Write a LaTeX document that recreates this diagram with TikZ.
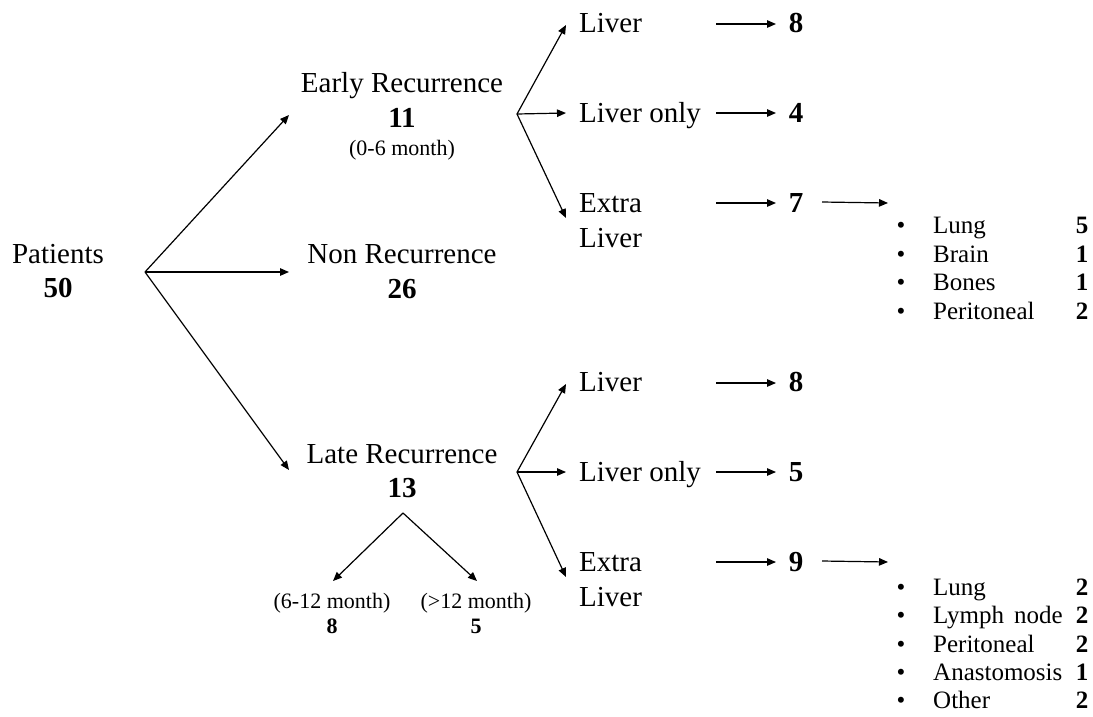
\documentclass[tikz,border=0pt]{standalone}
\usepackage{fontspec}
\setmainfont{Liberation Serif}
\usetikzlibrary{arrows.meta}
\begin{document}
\begin{tikzpicture}[x=1pt,y=-1pt,
  lbl/.style={font=\fontsize{29}{33}\selectfont, inner sep=0pt, anchor=base},
  lblw/.style={lbl, anchor=base west},
  num/.style={font=\fontsize{29}{33}\selectfont\bfseries, inner sep=0pt, anchor=base},
  mon/.style={font=\fontsize{22}{26}\selectfont, inner sep=0pt, anchor=base},
  monnum/.style={font=\fontsize{22}{26}\selectfont\bfseries, inner sep=0pt, anchor=base},
  item/.style={font=\fontsize{25}{28}\selectfont, inner sep=0pt, anchor=base west},
  itemnum/.style={font=\fontsize{25}{28}\selectfont\bfseries, inner sep=0pt, anchor=base},
  bul/.style={font=\fontsize{25}{28}\selectfont, inner sep=0pt, anchor=base},
  arr/.style={line width=1.2pt, -{Triangle[length=9pt,width=7.5pt]}}
]
\useasboundingbox (0,0) rectangle (1093,716);

% root
\node[lbl] (pat) at (58,263) {Patients};
\node[num] (n50) at (58,297) {50};
\coordinate (root) at (145,272);

% middle column
\node[lbl] (early) at (402,92) {Early Recurrence};
\node[num] (n11) at (402,127) {11};
\node[mon] (m06) at (402,155) {(0-6 month)};
\node[lbl] (non) at (402,263) {Non Recurrence};
\node[num] (n26) at (402,298) {26};
\node[lbl] (late) at (402,463) {Late Recurrence};
\node[num] (n13) at (402,497) {13};

\coordinate (tE) at (289,115);
\coordinate (tN) at (289,272);
\coordinate (tL) at (289,470);
\draw[arr] (root) -- (tE);
\draw[arr] (root) -- (tN);
\draw[arr] (root) -- (tL);

% late sub split
\coordinate (lsub) at (403,513);
\coordinate (tA) at (333,581);
\coordinate (tB) at (477,581);
\draw[arr] (lsub) -- (tA);
\draw[arr] (lsub) -- (tB);
\node[mon] (m612) at (332,608) {(6-12 month)};
\node[monnum] (n8b) at (332,633) {8};
\node[mon] (m12) at (476,608) {(>12 month)};
\node[monnum] (n5b) at (476,633) {5};

% early branch
\coordinate (eroot) at (517,114);
\coordinate (eT1) at (566,25);
\coordinate (eT2) at (566,113);
\coordinate (eT3) at (566,218);
\draw[arr] (eroot) -- (eT1);
\draw[arr] (eroot) -- (eT2);
\draw[arr] (eroot) -- (eT3);
\node[lblw] (eLiver) at (579,32) {Liver};
\node[lblw] (eOnly) at (579,122) {Liver only};
\node[lblw] (eExtra) at (579,212) {Extra};
\node[lblw] (eExtra2) at (579,247) {Liver};
\coordinate (eA1s) at (716,24);  \coordinate (eA1e) at (776,24);
\coordinate (eA2s) at (716,113); \coordinate (eA2e) at (776,113);
\coordinate (eA3s) at (716,203); \coordinate (eA3e) at (776,203);
\draw[arr] (eA1s) -- (eA1e);
\draw[arr] (eA2s) -- (eA2e);
\draw[arr] (eA3s) -- (eA3e);
\node[num] (eN1) at (796,32) {8};
\node[num] (eN2) at (796,122) {4};
\node[num] (eN3) at (796,212) {7};
\coordinate (eL0) at (822,202); \coordinate (eL1) at (888,203);
\draw[arr] (eL0) -- (eL1);
\foreach \t/\v/\y [count=\i] in {Lung/5/233, Brain/1/262, Bones/1/290, Peritoneal/2/319}{
  \node[bul] (eb\i) at (901,\y) {•};
  \node[item] (ei\i) at (933,\y) {\t};
  \node[itemnum] (ev\i) at (1082,\y) {\v};
}

% late branch
\coordinate (lroot) at (517,472);
\coordinate (lT1) at (566,384);
\coordinate (lT2) at (566,472);
\coordinate (lT3) at (566,577);
\draw[arr] (lroot) -- (lT1);
\draw[arr] (lroot) -- (lT2);
\draw[arr] (lroot) -- (lT3);
\node[lblw] (lLiver) at (579,391) {Liver};
\node[lblw] (lOnly) at (579,481) {Liver only};
\node[lblw] (lExtra) at (579,571) {Extra};
\node[lblw] (lExtra2) at (579,606) {Liver};
\coordinate (lA1s) at (716,383); \coordinate (lA1e) at (776,383);
\coordinate (lA2s) at (716,472); \coordinate (lA2e) at (776,472);
\coordinate (lA3s) at (716,562); \coordinate (lA3e) at (776,562);
\draw[arr] (lA1s) -- (lA1e);
\draw[arr] (lA2s) -- (lA2e);
\draw[arr] (lA3s) -- (lA3e);
\node[num] (lN1) at (796,391) {8};
\node[num] (lN2) at (796,481) {5};
\node[num] (lN3) at (796,571) {9};
\coordinate (lL0) at (822,561); \coordinate (lL1) at (888,562);
\draw[arr] (lL0) -- (lL1);
\foreach \t/\v/\y [count=\i] in {Lung/2/595, Lymph\hspace{0.4em}node/2/623, Peritoneal/2/652, Anastomosis/1/680, Other/2/708}{
  \node[bul] (lb\i) at (901,\y) {•};
  \node[item] (li\i) at (933,\y) {\t};
  \node[itemnum] (lv\i) at (1082,\y) {\v};
}
\end{tikzpicture}
\end{document}
